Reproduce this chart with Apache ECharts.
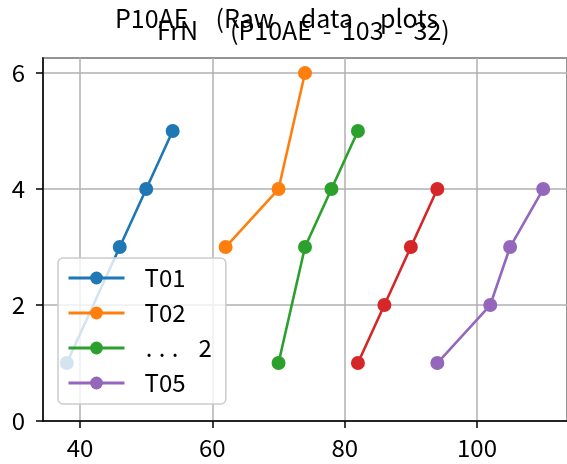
<!DOCTYPE html>
<html><head><meta charset="utf-8">
<script src="https://cdn.jsdelivr.net/npm/echarts@6/dist/echarts.min.js"></script>
<style>html,body{margin:0;padding:0;background:#fff}#c{width:567px;height:464px}</style>
</head><body><div id="c"></div>
<script>
// ---- data ----
const seriesNames = ['T01', 'T02', '... 2', 'T04', 'T05'];
const legendNames = ['T01', 'T02', '... 2', 'T05'];
const t01X = [38, 46, 50, 54];   const t01Y = [1, 3, 4, 5];
const t02X = [62, 70, 74];       const t02Y = [3, 4, 6];
const t03X = [70, 74, 78, 82];   const t03Y = [1, 3, 4, 5];
const t04X = [82, 86, 90, 94];   const t04Y = [1, 2, 3, 4];
const t05X = [94, 102, 105, 110]; const t05Y = [1, 2, 3, 4];
const xTicks = [40, 60, 80, 100];
const yTicks = [0, 2, 4, 6];
const titleLine1 = ['P10AE', '(Raw', 'data', 'plots'];
const titleLine2 = ['FrN', '(P10AE', '103', '32)'];

const colors = ['#1f77b4', '#ff7f0e', '#2ca02c', '#d62728', '#9467bd'];
const xs = [t01X, t02X, t03X, t04X, t05X];
const ys = [t01Y, t02Y, t03Y, t04Y, t05Y];
const FONT = '"Noto Sans CJK JP", "Noto Sans", sans-serif';

const series = seriesNames.map((n, i) => ({
  name: n, type: 'line',
  data: xs[i].map((x, k) => [x, ys[i][k]]),
  symbol: 'circle', symbolSize: 14,
  lineStyle: { width: 2.6, color: colors[i] },
  itemStyle: { color: colors[i] },
  emphasis: { disabled: true },
  animation: false
}));

const rich1 = { s: { width: 27 } };
const rich2 = { s: { width: 32 }, h: { width: 30, align: 'center' } };
const t1 = titleLine1.join('{s| }');
const t2 = titleLine2[0] + '{s| }' + titleLine2[1] + '{h|-}' + titleLine2[2] + '{h|-}' + titleLine2[3];

const chart = echarts.init(document.getElementById('c'), null, { renderer: 'canvas' });
chart.setOption({
  animation: false,
  color: colors,
  title: [
    { text: t1, left: 110, top: 1, textStyle: { fontFamily: FONT, fontSize: 25, fontWeight: 'normal', color: '#000', rich: rich1 } },
    { text: t2, left: 152, top: 13, textStyle: { fontFamily: FONT, fontSize: 25, fontWeight: 'normal', color: '#000', rich: rich2 } }
  ],
  grid: { left: 43, top: 58, width: 528, height: 363, show: true, borderColor: '#000', borderWidth: 1.5, backgroundColor: 'transparent' },
  xAxis: {
    type: 'value', min: 34.4, max: 113.6,
    axisLine: { lineStyle: { color: '#000', width: 1.5 } },
    axisTick: { show: true, length: 7, lineStyle: { color: '#000', width: 1.5 } },
    axisLabel: { showMinLabel: false, showMaxLabel: false, fontFamily: FONT, fontSize: 24, color: '#000', margin: 15,
      formatter: v => (xTicks.indexOf(v) >= 0 ? String(v) : '') },
    splitLine: { show: true, lineStyle: { color: '#b0b0b0', width: 1.5 } }
  },
  yAxis: {
    type: 'value', min: 0, max: 6.26, interval: 2,
    axisLine: { show: true, lineStyle: { color: '#000', width: 1.5 } },
    axisTick: { show: true, length: 7, lineStyle: { color: '#000', width: 1.5 } },
    axisLabel: { showMaxLabel: false, fontFamily: FONT, fontSize: 24, color: '#000', margin: 18,
      formatter: v => (yTicks.indexOf(v) >= 0 ? String(v) : '') },
    splitLine: { show: true, lineStyle: { color: '#b0b0b0', width: 1.5 } }
  },
  legend: {
    data: legendNames, orient: 'vertical', left: 58, top: 258,
    padding: [8, 14, 9, 9], itemGap: 11, itemWidth: 56, itemHeight: 16,
    backgroundColor: 'rgba(255,255,255,0.8)', borderColor: '#cccccc', borderWidth: 1.5, borderRadius: 5,
    selectedMode: false,
    lineStyle: { width: 3 },
    formatter: n => n === '... 2' ? '{g|}{d|.}{d|.}{d|.}{t|2}' : '{n|' + n + '}',
    textStyle: { fontFamily: FONT, fontSize: 24, color: '#000', lineHeight: 24,
      rich: { n: { padding: [0, 0, 0, 15], fontFamily: FONT, fontSize: 24, lineHeight: 24 },
              g: { width: 13, lineHeight: 24 },
              d: { width: 13, align: 'center', fontFamily: FONT, fontSize: 24, lineHeight: 24 },
              t: { padding: [0, 0, 0, 17], fontFamily: FONT, fontSize: 24, lineHeight: 24 } } }
  },
  series: series
});
</script></body></html>
